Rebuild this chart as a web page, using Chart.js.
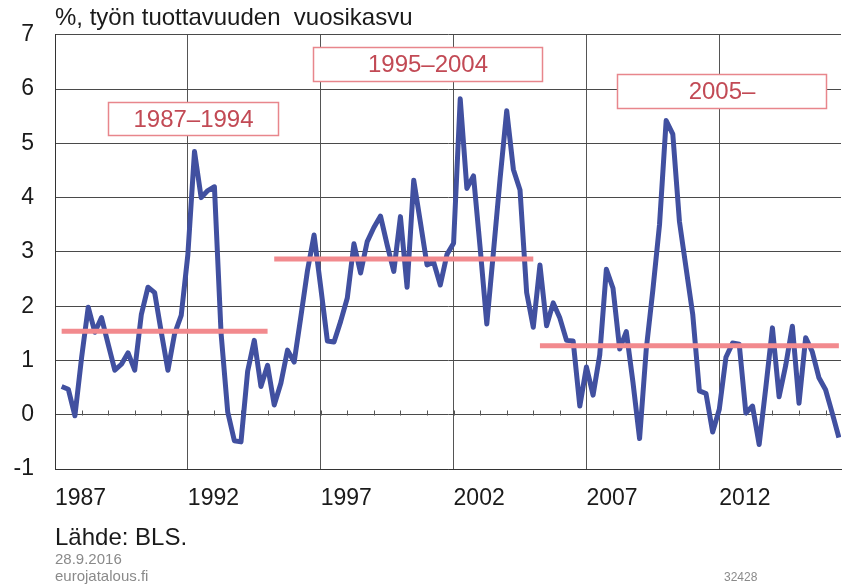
<!DOCTYPE html>
<html>
<head>
<meta charset="utf-8">
<script src="https://cdn.jsdelivr.net/npm/chart.js@4"></script>
<style>
  html, body { margin: 0; padding: 0; background: #fff; }
</style>
</head>
<body>
<canvas id="myChart" width="842" height="586"></canvas>
<script>
'use strict';

let titleText = '%, työn tuottavuuden  vuosikasvu';
let sourceText = 'Lähde: BLS.';
let dateText = '28.9.2016';
let siteText = 'eurojatalous.fi';
let codeText = '32428';

let firstYear = 1987;
let lastYear = 2016;
// quarterly productivity growth, 1987Q1 ... 2016Q2
let growth = [
    0.52, 0.47, -0.02, 1.05, 1.98, 1.52, 1.79, 1.3, 0.82, 0.93,
    1.14, 0.82, 1.85, 2.35, 2.25, 1.52, 0.82, 1.49, 1.83, 2.95,
    4.85, 4.0, 4.13, 4.2, 1.5, 0.05, -0.48, -0.5, 0.8, 1.37,
    0.52, 0.91, 0.18, 0.58, 1.19, 0.97, 1.8, 2.65, 3.31, 2.35,
    1.36, 1.34, 1.72, 2.15, 3.15, 2.61, 3.19, 3.45, 3.66, 3.13,
    2.64, 3.65, 2.35, 4.32, 3.55, 2.76, 2.81, 2.39, 2.95, 3.16,
    5.82, 4.17, 4.4, 3.07, 1.67, 3.0, 4.35, 5.6, 4.52, 4.14,
    2.25, 1.61, 2.76, 1.64, 2.06, 1.78, 1.37, 1.36, 0.16, 0.88,
    0.36, 1.1, 2.68, 2.33, 1.21, 1.53, 0.6, -0.44, 1.2, 2.3,
    3.5, 5.42, 5.17, 3.56, 2.7, 1.85, 0.44, 0.39, -0.32, 0.1,
    1.06, 1.32, 1.3, 0.03, 0.16, -0.55, 0.5, 1.6, 0.33, 0.91,
    1.63, 0.21, 1.42, 1.16, 0.68, 0.46, 0.03, -0.42
];

let periodNames = ['1987–1994', '1995–2004', '2005–'];
let periodFrom = [1987.25, 1995.25, 2005.25];
let periodTo = [1995.0, 2005.0, 2016.5];
let periodMean = [1.54, 2.87, 1.27];

let xLabelYears = [1987, 1992, 1997, 2002, 2007, 2012];
let yMin = -1;
let yMax = 7;

// where the period label boxes sit, in axis units
let boxPlace = [
    { x0: 1989.0, x1: 1995.4, y0: 5.15, y1: 5.76 },
    { x0: 1996.7, x1: 2005.32, y0: 6.15, y1: 6.78 },
    { x0: 2008.14, x1: 2016.02, y0: 5.65, y1: 6.27 }
];

let font = 'Liberation Sans, Arial, sans-serif';
let blue = '#4150a0';
let pink = '#f28a8e';

let points = [];
for (let i = 0; i < growth.length; i++) {
    points.push({ x: firstYear + (i + 1) / 4, y: growth[i] });
}

let datasets = [];
for (let k = 0; k < periodNames.length; k++) {
    datasets.push({
        label: periodNames[k],
        data: [{ x: periodFrom[k], y: periodMean[k] }, { x: periodTo[k], y: periodMean[k] }],
        borderColor: pink,
        borderWidth: 5,
        borderCapStyle: 'butt',
        pointRadius: 0,
        order: 1
    });
}
datasets.push({
    label: 'growth',
    data: points,
    borderColor: blue,
    borderWidth: 5,
    borderJoinStyle: 'round',
    pointRadius: 0,
    tension: 0,
    order: 2
});

let extras = {
    id: 'extras',
    beforeDatasetsDraw(chart) {
        let ctx = chart.ctx;
        let xs = chart.scales.x;
        let ys = chart.scales.y;
        let y0 = Math.round(ys.getPixelForValue(0)) + 0.5;
        ctx.save();
        ctx.strokeStyle = '#555';
        ctx.lineWidth = 1;
        for (let yr = firstYear + 1; yr <= lastYear; yr++) {
            let px = Math.round(xs.getPixelForValue(yr)) + 0.5;
            ctx.beginPath();
            ctx.moveTo(px, y0);
            ctx.lineTo(px, y0 - 5);
            ctx.stroke();
        }
        ctx.restore();
    },
    afterDraw(chart) {
        let ctx = chart.ctx;
        let xs = chart.scales.x;
        let ys = chart.scales.y;
        let left = chart.chartArea.left;
        ctx.save();

        // period boxes
        for (let k = 0; k < boxPlace.length; k++) {
            let b = boxPlace[k];
            let x0 = Math.round(xs.getPixelForValue(b.x0)) + 0.5;
            let x1 = Math.round(xs.getPixelForValue(b.x1)) + 0.5;
            let y0 = Math.round(ys.getPixelForValue(b.y1)) + 0.5;
            let y1 = Math.round(ys.getPixelForValue(b.y0)) + 0.5;
            ctx.fillStyle = '#fff';
            ctx.fillRect(x0, y0, x1 - x0, y1 - y0);
            ctx.strokeStyle = '#e8868c';
            ctx.lineWidth = 1.5;
            ctx.strokeRect(x0, y0, x1 - x0, y1 - y0);
            ctx.fillStyle = '#c24a55';
            ctx.font = '24px ' + font;
            ctx.textAlign = 'center';
            ctx.textBaseline = 'middle';
            ctx.fillText(periodNames[k], (x0 + x1) / 2, (y0 + y1) / 2 + 1);
        }

        // title and footer
        ctx.textAlign = 'left';
        ctx.textBaseline = 'middle';
        ctx.fillStyle = '#1a1a1a';
        ctx.font = '24px ' + font;
        ctx.fillText(titleText, left, 18);
        ctx.fillText(sourceText, left, 538);
        ctx.fillStyle = '#8a8a8a';
        ctx.font = '15px ' + font;
        ctx.fillText(dateText, left, 560);
        ctx.fillText(siteText, left, 577);
        ctx.font = '12px ' + font;
        ctx.fillText(codeText, 724, 578);
        ctx.restore();
    }
};

let ctx = document.getElementById('myChart').getContext('2d');
let myChart = new Chart(ctx, {
    type: 'line',
    data: { datasets: datasets },
    plugins: [extras],
    options: {
        responsive: false,
        animation: false,
        layout: { padding: { top: 32, right: 1, left: 0, bottom: 0 } },
        plugins: {
            legend: { display: false },
            tooltip: { enabled: false }
        },
        scales: {
            x: {
                type: 'linear',
                min: firstYear,
                max: 2016.58,
                afterFit: function (scale) { scale.height = 117; },
                grid: {
                    drawTicks: false,
                    lineWidth: 1,
                    color: function (c) {
                        if (c.tick && xLabelYears.includes(c.tick.value)) {
                            return '#555';
                        }
                        return 'rgba(0,0,0,0)';
                    }
                },
                border: { color: '#333', width: 1 },
                ticks: {
                    stepSize: 1,
                    autoSkip: false,
                    includeBounds: false,
                    maxRotation: 0,
                    minRotation: 0,
                    align: 'start',
                    padding: 16,
                    color: '#1a1a1a',
                    font: { family: font, size: 23 },
                    callback: function (v) {
                        return xLabelYears.includes(v) ? String(v) : '';
                    }
                }
            },
            y: {
                min: yMin,
                max: yMax,
                afterFit: function (scale) { scale.width = 55; },
                grid: { drawTicks: false, color: '#4a4a4a', lineWidth: 1 },
                border: { color: '#333', width: 1 },
                ticks: {
                    stepSize: 1,
                    padding: 21,
                    color: '#1a1a1a',
                    font: { family: font, size: 23 }
                }
            }
        }
    }
});
</script>
</body>
</html>
